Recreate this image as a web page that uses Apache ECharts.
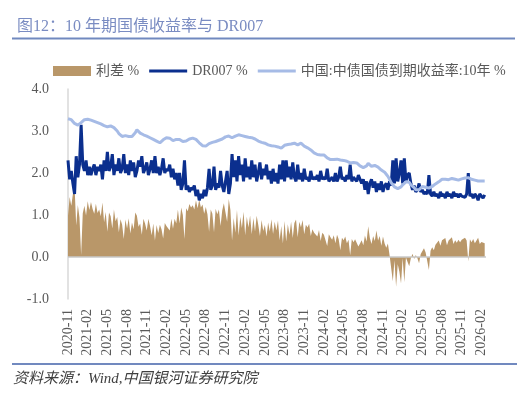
<!DOCTYPE html>
<html><head><meta charset="utf-8">
<script src="https://cdn.jsdelivr.net/npm/echarts@6/dist/echarts.min.js"></script>
<style>html,body{margin:0;padding:0;background:#fff}#c{width:528px;height:395px}</style>
</head><body><div id="c"></div>
<script>
// x positions: quarter-month steps starting 2020-11
const stepsPerMonth = 4;
const xTickLabels = ['2020-11','2021-02','2021-05','2021-08','2021-11','2022-02','2022-05','2022-08','2022-11','2023-02','2023-05','2023-08','2023-11','2024-02','2024-05','2024-08','2024-11','2025-02','2025-05','2025-08','2025-11','2026-02'];
const yTicks = [-1, 0, 1, 2, 3, 4];

const dr007 = [
2.30,1.85,2.05,1.75, 1.50,2.40,1.90,2.20, 3.15,2.20,2.05,2.30, 1.95,2.15,1.95,2.10,
2.20,1.95,2.15,2.05, 2.20,1.85,2.30,2.05, 2.50,2.05,2.15,2.45, 1.95,2.20,2.05,2.35,
2.00,2.10,2.45,2.00, 2.20,1.95,2.30,2.05, 2.25,1.90,2.05,2.30, 2.15,2.40,2.00,2.10,
2.25,1.95,2.10,2.30, 2.00,2.40,2.00,2.15, 1.95,2.10,2.35,2.00, 2.10,2.05,2.20,1.90,
2.10,1.85,2.00,1.70, 2.00,1.60,1.75,2.30, 1.60,1.70,1.55,1.65, 1.60,1.70,1.45,1.60,
1.35,1.50,1.40,1.60, 1.45,1.65,2.10,1.60, 1.70,2.15,1.60,1.75, 1.65,2.05,1.70,1.55,
1.80,2.05,1.50,1.75, 2.45,1.90,2.30,1.80, 2.40,1.95,2.20,1.80, 2.35,1.90,2.15,1.85,
2.30,1.90,2.20,1.80, 2.00,2.25,1.85,2.10, 1.95,2.20,1.85,2.05, 1.75,2.10,1.80,2.00,
1.75,2.20,1.85,2.30, 1.80,2.30,1.90,2.15, 1.85,2.25,1.90,1.80, 2.20,1.85,2.00,1.80,
2.10,1.85,1.90,1.80, 2.05,1.85,1.90,1.85, 1.95,1.80,2.05,1.85, 1.90,1.85,2.10,1.80,
1.85,1.90,1.80,2.00, 1.80,1.90,2.15,1.85, 1.90,1.80,1.95,1.85, 2.20,1.80,1.90,1.85,
1.80,1.95,1.85,1.75, 1.85,1.60,1.80,1.50, 1.75,1.85,1.65,1.80, 1.55,1.75,1.60,1.80,
1.55,1.70,1.75,1.60, 1.80,1.70,2.30,1.75, 2.35,1.80,2.00,2.30, 1.75,2.35,1.80,1.95,
2.00,1.75,1.60,1.70, 1.55,1.60,1.75,1.55, 1.60,1.50,1.55,1.50, 1.95,1.50,1.45,1.55,
1.45,1.50,1.40,1.55, 1.45,1.50,1.40,1.55, 1.45,1.50,1.40,1.55, 1.45,1.50,1.42,1.50,
1.45,1.48,1.42,1.50, 2.00,1.45,1.50,1.40, 1.50,1.45,1.35,1.50, 1.45,1.40,1.48
];

const cgb10y = [
3.29,3.28,3.27,3.25, 3.18,3.15,3.14,3.14, 3.20,3.24,3.27,3.29, 3.28,3.27,3.26,3.24,
3.23,3.22,3.20,3.18, 3.17,3.15,3.13,3.12, 3.10,3.11,3.12,3.13, 3.08,3.05,3.00,2.94,
2.90,2.87,2.88,2.89, 2.88,2.87,2.86,2.87, 2.91,2.96,3.03,3.02, 2.95,2.93,2.91,2.89,
2.88,2.86,2.84,2.82, 2.80,2.79,2.76,2.72, 2.72,2.76,2.79,2.81, 2.84,2.83,2.83,2.81,
2.77,2.76,2.80,2.83, 2.80,2.78,2.75,2.73, 2.76,2.79,2.81,2.83, 2.83,2.83,2.80,2.76,
2.72,2.68,2.65,2.63, 2.64,2.67,2.70,2.73, 2.73,2.74,2.75,2.77, 2.78,2.79,2.81,2.83,
2.86,2.89,2.88,2.87, 2.84,2.83,2.88,2.92, 2.91,2.91,2.89,2.88, 2.87,2.86,2.85,2.84,
2.84,2.83,2.81,2.78, 2.76,2.75,2.73,2.72, 2.71,2.69,2.67,2.66, 2.65,2.65,2.64,2.63,
2.62,2.60,2.59,2.62, 2.66,2.67,2.68,2.68, 2.69,2.70,2.71,2.69, 2.67,2.69,2.71,2.68,
2.64,2.62,2.60,2.59, 2.55,2.51,2.48,2.45, 2.44,2.44,2.43,2.43, 2.43,2.40,2.36,2.34,
2.32,2.31,2.32,2.33, 2.33,2.32,2.31,2.31, 2.30,2.29,2.28,2.26, 2.24,2.23,2.25,2.27,
2.24,2.20,2.17,2.15, 2.13,2.11,2.17,2.23, 2.20,2.16,2.15,2.18, 2.18,2.14,2.10,2.07,
2.04,2.02,1.97,1.92, 1.85,1.77,1.72,1.67, 1.64,1.63,1.65,1.67, 1.72,1.75,1.79,1.83,
1.78,1.72,1.68,1.65, 1.60,1.57,1.60,1.62, 1.68,1.71,1.66,1.63, 1.64,1.65,1.68,1.71,
1.74,1.77,1.79,1.82, 1.85,1.87,1.85,1.83, 1.84,1.86,1.87,1.86, 1.85,1.84,1.83,1.85,
1.86,1.87,1.88,1.89, 1.89,1.87,1.85,1.83, 1.83,1.82,1.81,1.81, 1.81,1.80,1.81
];

// spread = 10Y yield - DR007 (definition of 利差)
const spread = cgb10y.map((v, i) => +(v - dr007[i]).toFixed(2));

const pos = i => i / stepsPerMonth;
const seriesNames = ['利差 %', 'DR007 %', '中国:中债国债到期收益率:10年 %'];
const colors = { spread: '#B99769', dr: '#0B2F8E', cgb: '#A6BBE6' };
const lineIcon = 'path://M0,0L38,0L38,3L0,3Z';

const serif = "'Liberation Serif','Noto Sans CJK SC',serif";
const chart = echarts.init(document.getElementById('c'), null, { renderer: 'canvas' });
chart.setOption({
  animation: false,
  backgroundColor: '#fff',
  title: {
    text: '图12：10 年期国债收益率与 DR007',
    left: 12, top: 14,
    textStyle: { color: '#7A8CC2', fontSize: 16, fontWeight: 'normal', fontFamily: serif }
  },
  graphic: [
    { type: 'rect', shape: { x: 12, y: 37.5, width: 503, height: 2 }, style: { fill: '#7189BF' } },
    { type: 'rect', shape: { x: 12, y: 363, width: 505, height: 2 }, style: { fill: '#7189BF' } },
    { type: 'text', left: 13, top: 372,
      style: { text: '资料来源：Wind,中国银河证券研究院', fill: '#404040', font: "italic 15px 'Liberation Serif','Noto Sans CJK SC',serif" } }
  ],
  legend: {
    left: 53, top: 64, padding: 0,
    itemWidth: 38, itemHeight: 10, itemGap: 10,
    symbolKeepAspect: true,
    textStyle: { color: '#595959', fontSize: 14, fontFamily: serif },
    data: [
      { name: seriesNames[0], icon: 'rect', itemStyle: { color: colors.spread } },
      { name: seriesNames[1], icon: lineIcon, itemStyle: { color: colors.dr } },
      { name: seriesNames[2], icon: lineIcon, itemStyle: { color: colors.cgb } }
    ]
  },
  grid: { left: 68, top: 89, right: 42, bottom: 96 },
  xAxis: {
    type: 'value', min: 0, max: 63.7, interval: 3,
    axisLine: { show: false, onZero: false },
    axisTick: { show: false },
    splitLine: { show: false },
    axisLabel: {
      rotate: 90, margin: 10, color: '#595959', fontSize: 14, fontFamily: serif,
      showMaxLabel: false,
      formatter: v => xTickLabels[Math.round(v / 3)] || ''
    }
  },
  yAxis: {
    type: 'value', min: yTicks[0], max: yTicks[yTicks.length - 1], interval: 1,
    axisLine: { show: true, lineStyle: { color: '#D9D9D9', width: 1.5 } },
    axisTick: { show: false },
    splitLine: { show: false },
    axisLabel: { margin: 19, color: '#595959', fontSize: 14, fontFamily: serif, formatter: v => v.toFixed(1) }
  },
  series: [
    {
      name: seriesNames[0], type: 'line', symbol: 'none',
      data: spread.map((v, i) => [pos(i), v]),
      lineStyle: { width: 0 },
      itemStyle: { color: colors.spread },
      areaStyle: { color: colors.spread, opacity: 1 },
      markLine: {
        silent: true, symbol: 'none', label: { show: false },
        lineStyle: { color: '#C8C8C8', width: 1.5, type: 'solid' },
        data: [{ yAxis: 0 }]
      }
    },
    {
      name: seriesNames[1], type: 'line', symbol: 'none',
      data: dr007.map((v, i) => [pos(i), v]),
      lineStyle: { width: 3, color: colors.dr },
      itemStyle: { color: colors.dr }
    },
    {
      name: seriesNames[2], type: 'line', symbol: 'none',
      data: cgb10y.map((v, i) => [pos(i), v]),
      lineStyle: { width: 3, color: colors.cgb },
      itemStyle: { color: colors.cgb }
    }
  ]
});
</script>
</body></html>
